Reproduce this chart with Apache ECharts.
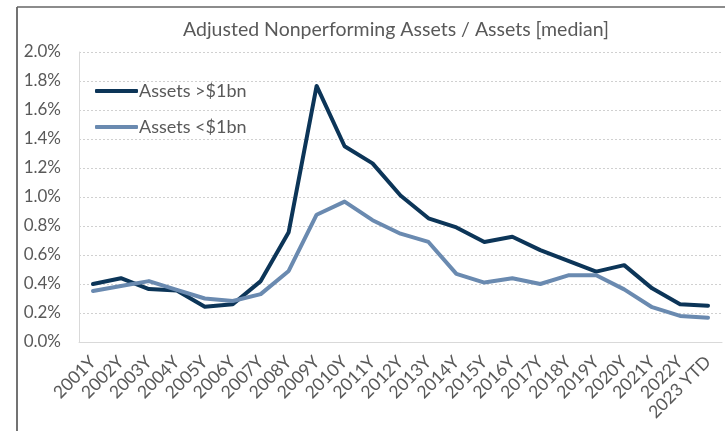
<!DOCTYPE html>
<html>
<head>
<meta charset="utf-8">
<script src="https://cdn.jsdelivr.net/npm/echarts@6/dist/echarts.min.js"></script>
<style>
	html, body { margin: 0; padding: 0; background: #fff; }
	#chart { width: 725px; height: 431px; }
</style>
</head>
<body>
<div id="chart"></div>
<script>
// categories and values (percent)
var years = ['2001Y', '2002Y', '2003Y', '2004Y', '2005Y', '2006Y', '2007Y', '2008Y', '2009Y', '2010Y', '2011Y', '2012Y',
	'2013Y', '2014Y', '2015Y', '2016Y', '2017Y', '2018Y', '2019Y', '2020Y', '2021Y', '2022Y', '2023 YTD'];
var bigBanks = [0.40, 0.44, 0.365, 0.355, 0.243, 0.26, 0.42, 0.757, 1.766, 1.35, 1.232, 1.01,
	0.853, 0.79, 0.69, 0.726, 0.634, 0.56, 0.485, 0.53, 0.37, 0.26, 0.25];
var smallBanks = [0.352, 0.386, 0.42, 0.36, 0.30, 0.283, 0.33, 0.49, 0.878, 0.968, 0.84, 0.747,
	0.69, 0.47, 0.41, 0.44, 0.40, 0.46, 0.46, 0.363, 0.24, 0.18, 0.168];
var seriesNames = ['Assets >$1bn', 'Assets <$1bn'];

(function () {
	var font = 'Lato, "Open Sans", sans-serif';
	var myChart = echarts.init(document.getElementById('chart'));
	var option = {
		animation: false,
		color: ['#0c3558', '#6a8ab0'],
		textStyle: { fontFamily: font },
		title: {
			text: 'Adjusted Nonperforming Assets / Assets [median]',
			left: 391,
			textAlign: 'center',
			top: 15,
			textStyle: {
				color: '#595959',
				fontSize: 19.5,
				fontWeight: 'normal',
				fontFamily: font
			}
		},
		legend: {
			orient: 'vertical',
			left: 90,
			top: 77,
			itemWidth: 43,
			itemHeight: 4,
			itemGap: 18,
			icon: 'roundRect',
			data: seriesNames,
			textStyle: {
				color: '#595959',
				fontSize: 18,
				padding: [0, 0, 0, -4],
				fontFamily: font
			}
		},
		grid: {
			left: 79,
			right: 3,
			top: 52,
			bottom: 89,
			containLabel: false
		},
		xAxis: {
			type: 'category',
			data: years,
			boundaryGap: true,
			axisTick: { show: false },
			axisLine: { lineStyle: { color: '#d9d9d9', width: 1 } },
			axisLabel: {
				rotate: 45,
				color: '#595959',
				fontSize: 17.5,
				margin: 17,
				interval: 0,
				fontFamily: font
			}
		},
		yAxis: {
			type: 'value',
			min: 0,
			max: 2,
			interval: 0.2,
			axisLine: { show: true, lineStyle: { color: '#d9d9d9', width: 1 } },
			axisTick: { show: false },
			axisLabel: {
				color: '#595959',
				fontSize: 17,
				margin: 18,
				fontFamily: font,
				formatter: function (v) { return v.toFixed(1) + '%'; }
			},
			splitLine: {
				lineStyle: { color: '#d0d0d0', type: [2, 2], width: 1 }
			}
		},
		graphic: [
			{
				type: 'line',
				shape: { x1: 17, y1: 7, x2: 17, y2: 431 },
				style: { stroke: '#444', lineWidth: 1.5 }
			},
			{
				type: 'line',
				shape: { x1: 17, y1: 7, x2: 725, y2: 7 },
				style: { stroke: '#666', lineWidth: 1.5 }
			}
		],
		series: [
			{
				name: seriesNames[0],
				type: 'line',
				data: bigBanks,
				symbol: 'none',
				lineStyle: { width: 4, cap: 'round', join: 'round' }
			},
			{
				name: seriesNames[1],
				type: 'line',
				data: smallBanks,
				symbol: 'none',
				lineStyle: { width: 4, cap: 'round', join: 'round' }
			}
		]
	};
	myChart.setOption(option);
	window.addEventListener('resize', function () {
		myChart.resize();
	});
})();
</script>
</body>
</html>
